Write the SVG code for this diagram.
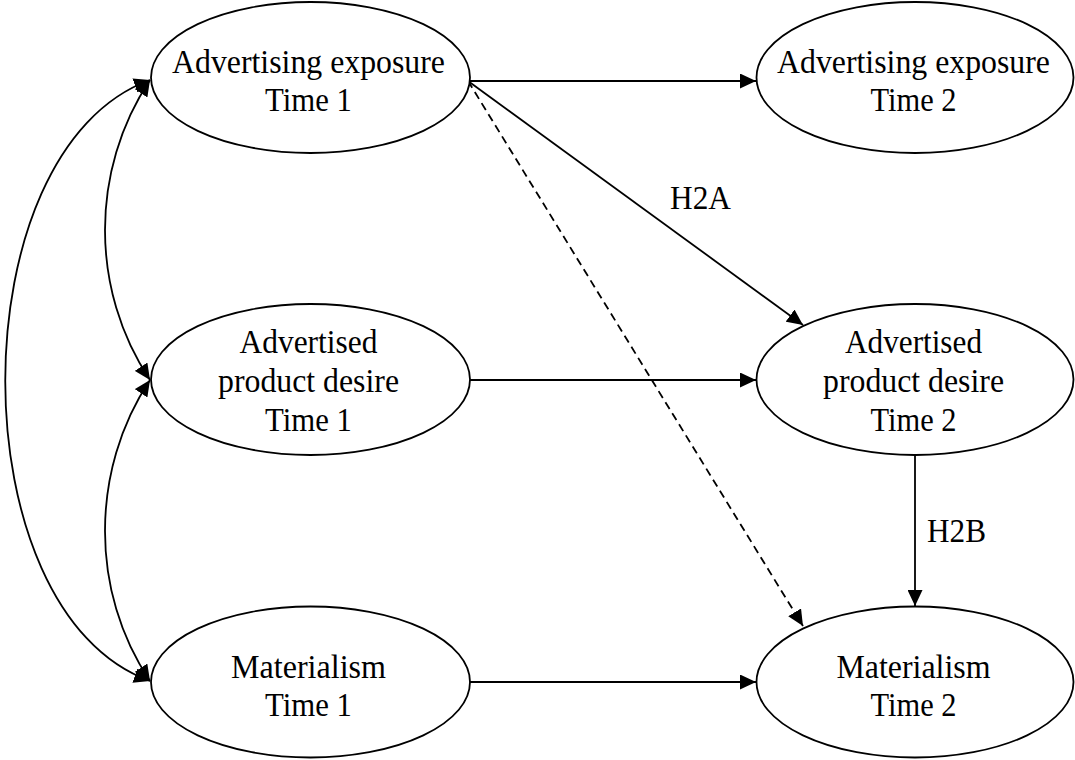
<svg xmlns="http://www.w3.org/2000/svg" width="1075" height="760" viewBox="0 0 1075 760">
<style>
.node ellipse{fill:#fff;stroke:#000;stroke-width:1.8}
.node text{font-family:"Liberation Serif","Times New Roman",serif;font-size:34px;fill:#000;text-anchor:middle}
.lbl{font-family:"Liberation Serif","Times New Roman",serif;font-size:34px;fill:#000}
.edge{fill:none;stroke:#000;stroke-width:1.8}
.dash{stroke-dasharray:8 5}
</style>
<defs>
<marker id="ah" markerUnits="userSpaceOnUse" markerWidth="17" markerHeight="15" refX="16" refY="7.5" orient="auto-start-reverse" viewBox="0 0 17 15">
<path d="M0,0 L16,7.5 L0,15 z" fill="#000"/>
</marker>
</defs>
<rect width="1075" height="760" fill="#fff"/>
<g id="connectors">
<path class="edge" d="M150,80 C90,170 90,290 150,380" marker-start="url(#ah)" marker-end="url(#ah)"/>
<path class="edge" d="M150,380 C90,470 90,592 150,681" marker-start="url(#ah)" marker-end="url(#ah)"/>
<path class="edge" d="M150,80 C-43,150 -43,612 150,681" marker-start="url(#ah)" marker-end="url(#ah)"/>
<path class="edge" d="M468,81 L756,81" marker-end="url(#ah)"/>
<path class="edge" d="M468,81 L803,325" marker-end="url(#ah)"/>
<path class="edge dash" d="M468,81 L803,626" marker-end="url(#ah)"/>
<path class="edge" d="M470,380 L756,380" marker-end="url(#ah)"/>
<path class="edge" d="M470,682 L756,682" marker-end="url(#ah)"/>
<path class="edge" d="M915,455 L915,606" marker-end="url(#ah)"/>
<text class="lbl" x="670" y="209" textLength="61" lengthAdjust="spacingAndGlyphs">H2A</text>
<text class="lbl" x="927" y="542" textLength="59" lengthAdjust="spacingAndGlyphs">H2B</text>
</g>
<g id="ae1" class="node">
<ellipse cx="310.5" cy="77.5" rx="159.5" ry="75.5"/>
<text x="308.5" y="73" textLength="273" lengthAdjust="spacingAndGlyphs">Advertising exposure</text>
<text x="308.5" y="111" textLength="87" lengthAdjust="spacingAndGlyphs">Time 1</text>
</g>
<g id="apd1" class="node">
<ellipse cx="310.5" cy="379.5" rx="159.5" ry="75.5"/>
<text x="308.5" y="353" textLength="138" lengthAdjust="spacingAndGlyphs">Advertised</text>
<text x="308.5" y="392" textLength="181" lengthAdjust="spacingAndGlyphs">product desire</text>
<text x="308.5" y="431" textLength="87" lengthAdjust="spacingAndGlyphs">Time 1</text>
</g>
<g id="mat1" class="node">
<ellipse cx="310.5" cy="682" rx="159.5" ry="75.5"/>
<text x="308.5" y="678" textLength="155" lengthAdjust="spacingAndGlyphs">Materialism</text>
<text x="308.5" y="716" textLength="87" lengthAdjust="spacingAndGlyphs">Time 1</text>
</g>
<g id="ae2" class="node">
<ellipse cx="915" cy="77.5" rx="158.5" ry="75.5"/>
<text x="913.5" y="73" textLength="273" lengthAdjust="spacingAndGlyphs">Advertising exposure</text>
<text x="913.5" y="111" textLength="86" lengthAdjust="spacingAndGlyphs">Time 2</text>
</g>
<g id="apd2" class="node">
<ellipse cx="915" cy="379.5" rx="158.5" ry="75.5"/>
<text x="913.5" y="353" textLength="137" lengthAdjust="spacingAndGlyphs">Advertised</text>
<text x="913.5" y="392" textLength="181" lengthAdjust="spacingAndGlyphs">product desire</text>
<text x="913.5" y="431" textLength="86" lengthAdjust="spacingAndGlyphs">Time 2</text>
</g>
<g id="mat2" class="node">
<ellipse cx="915" cy="682" rx="158.5" ry="75.5"/>
<text x="913.5" y="678" textLength="154" lengthAdjust="spacingAndGlyphs">Materialism</text>
<text x="913.5" y="716" textLength="86" lengthAdjust="spacingAndGlyphs">Time 2</text>
</g>
</svg>
